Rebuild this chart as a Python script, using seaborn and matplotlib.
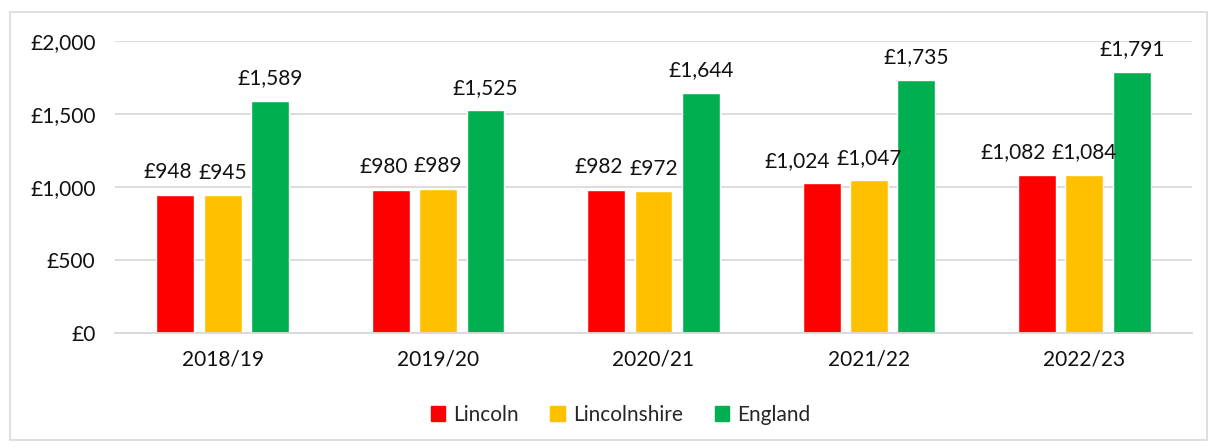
import seaborn as sns
import matplotlib.pyplot as plt
import pandas as pd
from matplotlib.patches import Rectangle

years = ['2018/19', '2019/20', '2020/21', '2021/22', '2022/23']
lincoln = [948, 980, 982, 1024, 1082]
lincolnshire = [945, 989, 972, 1047, 1084]
england = [1589, 1525, 1644, 1735, 1791]
areas = ['Lincoln', 'Lincolnshire', 'England']
colours = ['#FF0000', '#FFC000', '#00B050']
y_ticks = [0, 500, 1000, 1500, 2000]

# long format for seaborn
df = pd.DataFrame({'Year': years * 3,
                   'Area': [a for a in areas for _ in years],
                   'Value': lincoln + lincolnshire + england})

sns.set_theme(style="white")
plt.rcParams['font.family'] = ['Lato', 'DejaVu Sans']
fs = 15

fig = plt.figure(figsize=(12.17, 4.48), dpi=100)
ax = fig.add_axes([0.0945, 0.2567, 0.885, 0.6518])

sns.barplot(data=df, x='Year', y='Value', hue='Area', palette=colours,
            width=0.66, gap=0.2, ax=ax, legend=False, saturation=1)

# value labels above the bars
labels = []
for cont in ax.containers:
    labels.append(ax.bar_label(cont, labels=[f'£{v:,.0f}' for v in cont.datavalues],
                               padding=9, fontsize=fs, color='#111111'))

ax.set_xlim(-0.5, 4.5)
ax.set_ylim(0, 2000)
ax.set_yticks(y_ticks)
ax.set_yticklabels([f'£{v:,}' for v in y_ticks])
ax.yaxis.grid(True, color='#D9D9D9', linewidth=1.3)
ax.set_axisbelow(True)
ax.tick_params(axis='y', length=0, pad=14, labelsize=fs, labelcolor='#111111')
ax.tick_params(axis='x', length=0, pad=12, labelsize=fs, labelcolor='#111111')
ax.set_xlabel('')
ax.set_ylabel('')
for s in ['top', 'right', 'left']:
    ax.spines[s].set_visible(False)
ax.spines['bottom'].set_color('#D9D9D9')
ax.spines['bottom'].set_linewidth(1.3)

# nudge Lincoln labels left where they would run into the Lincolnshire ones
fig.canvas.draw()
r = fig.canvas.get_renderer()
for red, yel in zip(labels[0], labels[1]):
    a = red.get_window_extent(r)
    b = yel.get_window_extent(r)
    over = a.x1 + 6 - b.x0
    if over > 0:
        red.xyann = (-over * 72 / fig.dpi, red.xyann[1])

handles = [Rectangle((0, 0), 1, 1, color=c) for c in colours]
fig.legend(handles, areas, loc='center', bbox_to_anchor=(0.51, 0.074), ncol=3,
           frameon=False, fontsize=fs, handlelength=0.7, handleheight=0.7,
           handletextpad=0.4, columnspacing=1.5)

# light chart border
fig.patches.append(Rectangle((0.008, 0.018), 0.984, 0.955, transform=fig.transFigure,
                             fill=False, edgecolor='#D9D9D9', linewidth=1.2))

plt.savefig('out.png', dpi=100)
